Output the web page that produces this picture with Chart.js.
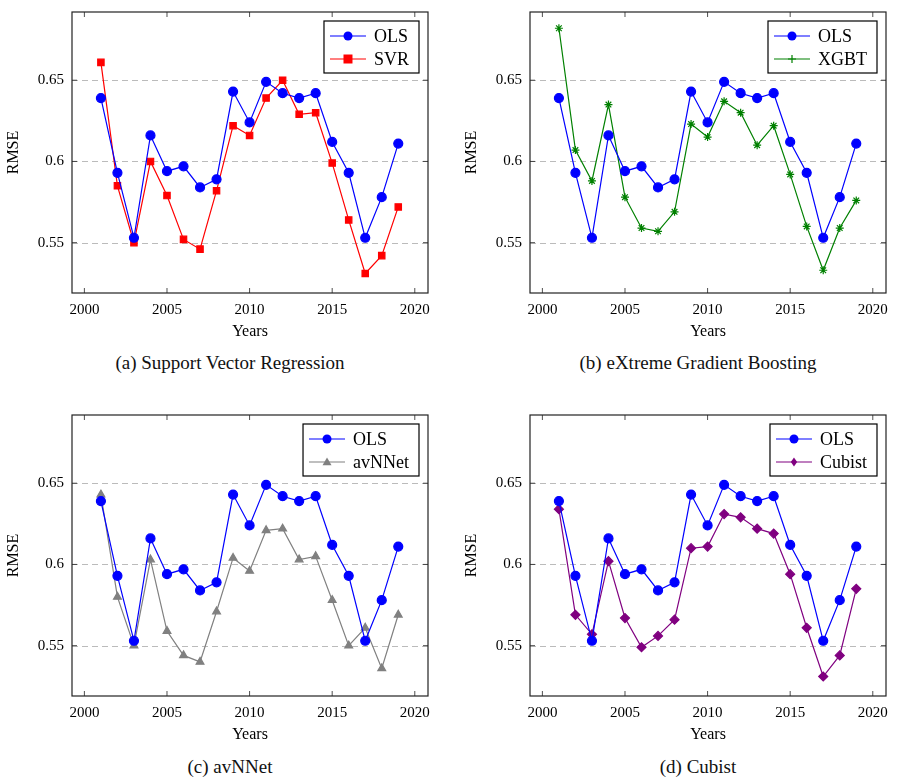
<!DOCTYPE html>
<html><head><meta charset="utf-8">
<script src="https://cdn.jsdelivr.net/npm/chart.js@4"></script>
<style>
body{margin:0;background:#fff;width:898px;height:781px;position:relative;font-family:"Liberation Serif",serif;overflow:hidden}
.c{position:absolute;width:440px;height:350px}
.cap{position:absolute;width:440px;text-align:center;font-size:19px;color:#111}
</style></head><body>
<div class="c" style="left:0;top:-5px"><canvas id="ca"></canvas></div>
<div class="c" style="left:458px;top:-5px"><canvas id="cb"></canvas></div>
<div class="c" style="left:0;top:398px"><canvas id="cc"></canvas></div>
<div class="c" style="left:458px;top:398px"><canvas id="cd"></canvas></div>
<div class="cap" style="left:10px;top:352px">(a) Support Vector Regression</div>
<div class="cap" style="left:478px;top:352px">(b) eXtreme Gradient Boosting</div>
<div class="cap" style="left:10px;top:756px">(c) avNNet</div>
<div class="cap" style="left:478px;top:756px">(d) Cubist</div>
<script>
var years = [2001,2002,2003,2004,2005,2006,2007,2008,2009,2010,2011,2012,2013,2014,2015,2016,2017,2018,2019];
var ols = [0.639,0.593,0.553,0.616,0.594,0.597,0.584,0.589,0.643,0.624,0.649,0.642,0.639,0.642,0.612,0.593,0.553,0.578,0.611];
var svr = [0.661,0.585,0.550,0.600,0.579,0.552,0.546,0.582,0.622,0.616,0.639,0.650,0.629,0.630,0.599,0.564,0.531,0.542,0.572];
var xgbt = [0.682,0.607,0.588,0.635,0.578,0.559,0.557,0.569,0.623,0.615,0.637,0.630,0.610,0.622,0.592,0.560,0.533,0.559,0.576];
var avnnet = [0.643,0.580,0.550,0.603,0.559,0.544,0.540,0.571,0.604,0.596,0.621,0.622,0.603,0.605,0.578,0.550,0.561,0.536,0.569];
var cubist = [0.634,0.569,0.557,0.602,0.567,0.549,0.556,0.566,0.610,0.611,0.631,0.629,0.622,0.619,0.594,0.561,0.531,0.544,0.585];
var yTicks = [0.55, 0.6, 0.65];
var xTicks = [2000, 2005, 2010, 2015, 2020];

var FONT = '"Liberation Serif", serif';

// frame, inner tick marks and in-plot legend
var framePlugin = {
  id: 'frame',
  beforeDatasetsDraw: function(chart) {
    var a = chart.chartArea, c = chart.ctx, ys = chart.scales.y;
    c.save();
    c.strokeStyle = '#bbb'; c.lineWidth = 1; c.setLineDash([6, 4]);
    yTicks.forEach(function(t) {
      var py = Math.round(ys.getPixelForValue(t)) + 0.5;
      c.beginPath(); c.moveTo(a.left, py); c.lineTo(a.right, py); c.stroke();
    });
    c.restore();
  },
  afterDraw: function(chart) {
    var a = chart.chartArea, c = chart.ctx, xs = chart.scales.x, ys = chart.scales.y;
    c.save();
    c.strokeStyle = '#222'; c.lineWidth = 1.2;
    c.strokeRect(a.left, a.top, a.right - a.left, a.bottom - a.top);
    c.lineWidth = 0.8;
    xTicks.forEach(function(t) {
      var px = xs.getPixelForValue(t);
      c.beginPath(); c.moveTo(px, a.bottom); c.lineTo(px, a.bottom - 5);
      c.moveTo(px, a.top); c.lineTo(px, a.top + 5); c.stroke();
    });
    yTicks.forEach(function(t) {
      var py = ys.getPixelForValue(t);
      c.beginPath(); c.moveTo(a.left, py); c.lineTo(a.left + 5, py);
      c.moveTo(a.right, py); c.lineTo(a.right - 5, py); c.stroke();
    });
    // legend
    var ds = chart.data.datasets;
    c.font = '18px ' + FONT;
    var tw = 0;
    ds.forEach(function(d) { tw = Math.max(tw, c.measureText(d.label).width); });
    var w = 52 + tw + 8, h = 52;
    var x0 = a.right - 9 - w, y0 = a.top + 9;
    c.fillStyle = '#fff'; c.fillRect(x0, y0, w, h);
    c.strokeStyle = '#000'; c.lineWidth = 1.2; c.strokeRect(x0, y0, w, h);
    ds.forEach(function(d, i) {
      var yy = y0 + 15 + i * 23;
      c.strokeStyle = d.borderColor; c.lineWidth = 1.2;
      c.beginPath(); c.moveTo(x0 + 6, yy); c.lineTo(x0 + 42, yy); c.stroke();
      c.fillStyle = d.pointBackgroundColor;
      var r = d.pointRadius;
      c.beginPath();
      if (d.pointStyle === 'rect') c.rect(x0 + 24 - r, yy - r, 2 * r, 2 * r);
      else if (d.pointStyle === 'triangle') { c.moveTo(x0 + 24, yy - r); c.lineTo(x0 + 24 + r, yy + r * 0.7); c.lineTo(x0 + 24 - r, yy + r * 0.7); c.closePath(); }
      else if (d.pointStyle === 'rectRot') { c.moveTo(x0 + 24, yy - r); c.lineTo(x0 + 24 + r * 0.7, yy); c.lineTo(x0 + 24, yy + r); c.lineTo(x0 + 24 - r * 0.7, yy); c.closePath(); }
      else if (d.pointStyle === 'star') { c.moveTo(x0 + 24 - r, yy); c.lineTo(x0 + 24 + r, yy); c.moveTo(x0 + 24, yy - r); c.lineTo(x0 + 24, yy + r); c.strokeStyle = d.borderColor; c.stroke(); }
      else c.arc(x0 + 24, yy, r, 0, Math.PI * 2);
      c.fill();
      c.fillStyle = '#000'; c.textBaseline = 'middle'; c.textAlign = 'left';
      c.fillText(d.label, x0 + 50, yy + 1);
    });
    c.restore();
  }
};

function series(label, data, color, style, r) {
  return {
    label: label, data: data.map(function(v, i) { return {x: years[i], y: v}; }),
    borderColor: color, backgroundColor: color, pointBackgroundColor: color,
    pointBorderColor: color, pointStyle: style, pointRadius: r, borderWidth: 1.2, tension: 0
  };
}

function makeChart(id, second) {
  var olsSet = series('OLS', ols, '#0000ff', 'circle', 4.5);
  return new Chart(document.getElementById(id), {
    type: 'line',
    data: { datasets: [olsSet, second] },
    plugins: [framePlugin],
    options: {
      responsive: true, maintainAspectRatio: false, animation: false,
      layout: { padding: { top: 0, right: 12, left: 0, bottom: 0 } },
      plugins: { legend: { display: false }, tooltip: { enabled: false } },
      scales: {
        x: {
          type: 'linear', min: 1999.25, max: 2020.8,
          afterBuildTicks: function(s) { s.ticks = xTicks.map(function(v) { return {value: v}; }); },
          grid: { display: false, drawTicks: false }, border: { display: false },
          ticks: { color: '#000', font: { family: FONT, size: 15 }, padding: 8, callback: function(v) { return v; } },
          title: { display: true, text: 'Years', color: '#000', font: { family: FONT, size: 16 }, padding: { top: 0 } },
          afterFit: function(s) { s.height = 52; }
        },
        y: {
          min: 0.519, max: 0.692,
          afterBuildTicks: function(s) { s.ticks = yTicks.map(function(v) { return {value: v}; }); },
          grid: { display: false, drawTicks: false }, border: { display: false },
          ticks: { color: '#000', font: { family: FONT, size: 15 }, padding: 8, callback: function(v) { return String(v); } },
          title: { display: true, text: 'RMSE', color: '#000', font: { family: FONT, size: 16 }, padding: { bottom: 2 } },
          afterFit: function(s) { s.width = 72; }
        }
      }
    }
  });
}

makeChart('ca', series('SVR', svr, '#ff0000', 'rect', 4.5));
makeChart('cb', series('XGBT', xgbt, '#008000', 'star', 4));
makeChart('cc', series('avNNet', avnnet, '#808080', 'triangle', 4.5));
makeChart('cd', series('Cubist', cubist, '#800080', 'rectRot', 4.5));
</script>
</body></html>
